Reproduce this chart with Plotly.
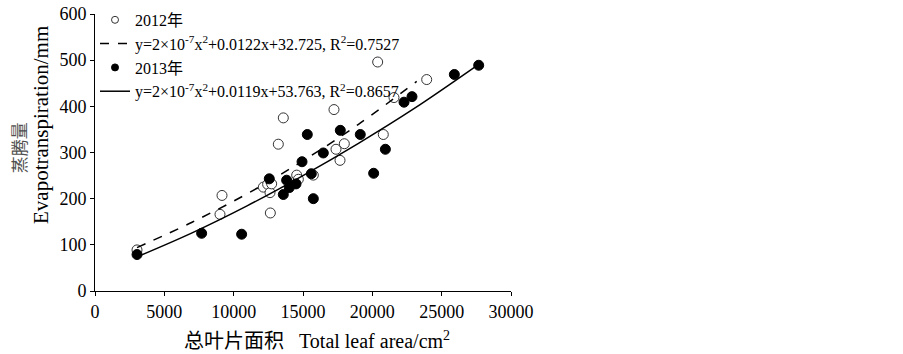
import plotly.graph_objects as go

# ---- data ----
x2012 = [3029, 9014, 9159, 12140, 12450, 12620, 12645, 12740, 13220, 13580, 14545,
         14665, 15745, 17235, 17380, 17670, 17980, 20385, 20790, 21560, 23920]
y2012 = [89, 166, 207, 225, 231, 213, 169, 232, 318, 375, 251,
         242, 251, 393, 307, 283, 319, 496, 339, 419, 458]

x2013 = [3030, 7690, 10575, 12570, 13580, 13820, 14010, 14495, 14930, 15310, 15600,
         15745, 16465, 17690, 19130, 20095, 20940, 22285, 22860, 25915, 27670]
y2013 = [79, 125, 123, 243, 209, 240, 224, 232, 280, 339, 254,
         200, 299, 348, 339, 255, 307, 409, 421, 469, 489]

# trend curves
fit2012_x = [3029, 7000, 11000, 15000, 19000, 23200]
fit2012_y = [94, 149, 211, 282, 361, 454]
fit2013_x = [3030, 7000, 11000, 15000, 19000, 23000, 27670]
fit2013_y = [74, 126, 185, 250, 320, 395, 491]

xticks = [0, 5000, 10000, 15000, 20000, 25000, 30000]
yticks = [0, 100, 200, 300, 400, 500, 600]

name_2012 = "2012年"
name_fit2012 = "y=2×10<sup>-7</sup>x<sup>2</sup>+0.0122x+32.725, R<sup>2</sup>=0.7527"
name_2013 = "2013年"
name_fit2013 = "y=2×10<sup>-7</sup>x<sup>2</sup>+0.0119x+53.763, R<sup>2</sup>=0.8657"

xtitle = "总叶片面积&nbsp;&nbsp;&nbsp;Total leaf area/cm<sup>2</sup>"
ytitle_cn = "蒸腾量"
ytitle_en = "Evapotranspiration/mm"

FONT = "'Liberation Serif', 'Times New Roman', 'Noto Sans CJK SC', serif"

open_marker = dict(symbol="circle", color="white", line=dict(color="#333333", width=1))
fill_marker = dict(symbol="circle", color="black", line=dict(color="black", width=1))
dash_line = dict(color="black", width=1.5, dash="dash")
solid_line = dict(color="black", width=1.5)

fig = go.Figure()
# data marks
fig.add_trace(go.Scatter(x=x2012, y=y2012, mode="markers", showlegend=False,
                         marker=dict(size=10, **open_marker)))
fig.add_trace(go.Scatter(x=fit2012_x, y=fit2012_y, mode="lines", showlegend=False,
                         line=dict(shape="spline", **dash_line)))
fig.add_trace(go.Scatter(x=x2013, y=y2013, mode="markers", showlegend=False,
                         marker=dict(size=10, **fill_marker)))
fig.add_trace(go.Scatter(x=fit2013_x, y=fit2013_y, mode="lines", showlegend=False,
                         line=dict(shape="spline", **solid_line)))
# legend entries (smaller symbols, as in the reference)
fig.add_trace(go.Scatter(x=[None], y=[None], mode="markers", name=name_2012,
                         marker=dict(size=7, **open_marker)))
fig.add_trace(go.Scatter(x=[None], y=[None], mode="lines", name=name_fit2012, line=dash_line))
fig.add_trace(go.Scatter(x=[None], y=[None], mode="markers", name=name_2013,
                         marker=dict(size=7, **fill_marker)))
fig.add_trace(go.Scatter(x=[None], y=[None], mode="lines", name=name_fit2013, line=solid_line))

tickfont = dict(family=FONT, size=18, color="black")

fig.update_layout(
    width=903, height=354,
    margin=dict(l=95, r=392, t=14, b=63, autoexpand=False),
    paper_bgcolor="white", plot_bgcolor="white",
    font=dict(family=FONT, size=16, color="black"),
    showlegend=True,
    legend=dict(x=0.0, y=1.04, xanchor="left", yanchor="top",
                bgcolor="rgba(0,0,0,0)", traceorder="normal",
                font=dict(family=FONT, size=16), tracegroupgap=0),
    xaxis=dict(range=[0, 30000], tickvals=xticks, ticktext=[str(v) for v in xticks],
               showgrid=False, zeroline=False, showline=True, linecolor="black",
               linewidth=1, ticks="outside", ticklen=4, tickcolor="black",
               tickfont=tickfont, automargin=False),
    yaxis=dict(range=[0, 600], tickvals=yticks, ticktext=[str(v) for v in yticks],
               showgrid=False, zeroline=False, showline=True, linecolor="black",
               linewidth=1, ticks="outside", ticklen=4, tickcolor="black",
               tickfont=tickfont, automargin=False, ticklabeloverflow="allow"),
    annotations=[
        dict(text=xtitle, xref="paper", yref="paper", x=0.534, y=-0.177,
             xanchor="center", yanchor="middle", showarrow=False,
             font=dict(family=FONT, size=20, color="black")),
        dict(text=ytitle_cn, xref="paper", yref="paper", x=-0.180, y=0.516,
             xanchor="center", yanchor="middle", showarrow=False, textangle=-90,
             font=dict(family=FONT, size=17, color="#505050")),
        dict(text=ytitle_en, xref="paper", yref="paper", x=-0.130, y=0.599,
             xanchor="center", yanchor="middle", showarrow=False, textangle=-90,
             font=dict(family=FONT, size=21, color="black")),
    ],
)

fig.write_html("out.html",
               config={"displayModeBar": False},
               post_script="document.body.style.margin='0px';document.body.style.overflow='hidden';")
